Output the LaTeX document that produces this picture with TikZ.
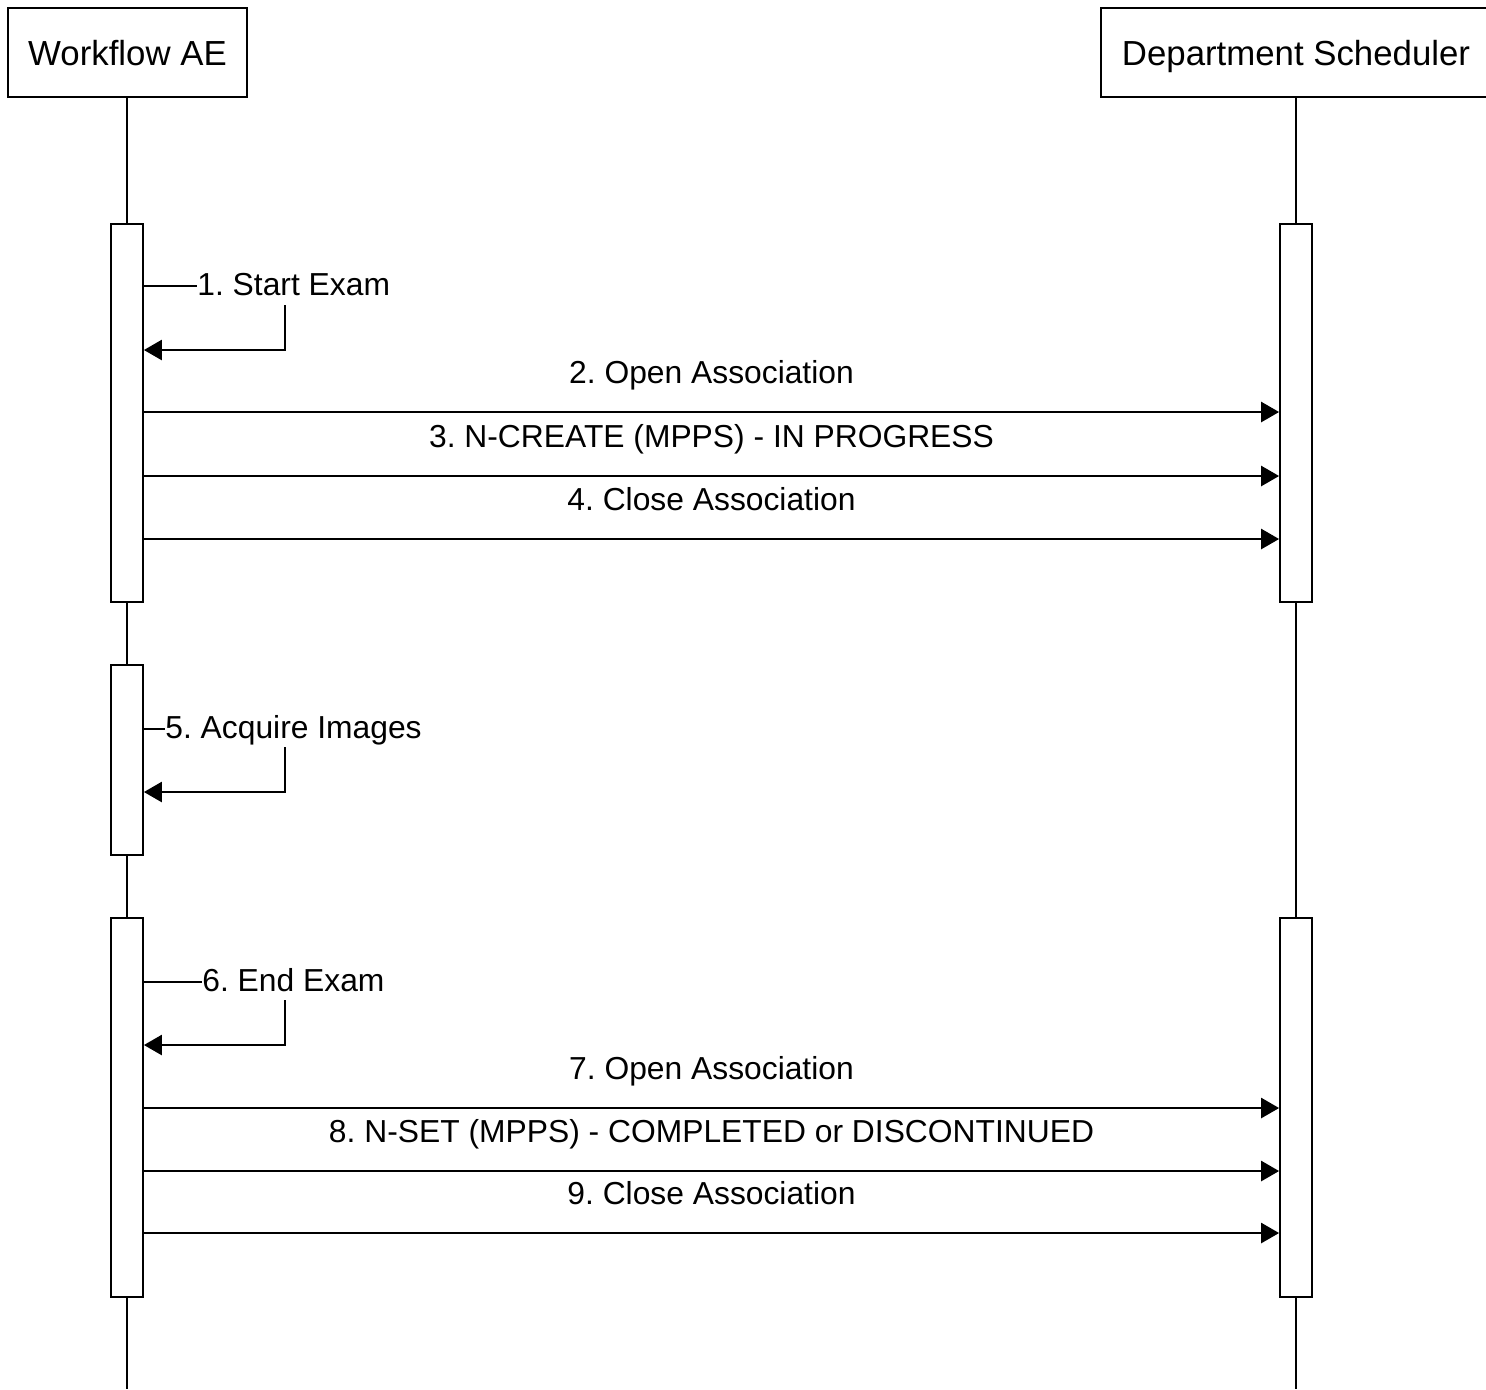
\documentclass[tikz,border=0pt]{standalone}
\usepackage{fontspec}
\setmainfont{Liberation Sans}
\usetikzlibrary{positioning, calc, arrows.meta}
\frenchspacing

\tikzset{
  head/.style={draw, line width=0.9pt, minimum height=44.5pt, inner sep=0pt, text height=12.5pt, text depth=0pt,
    font=\fontsize{17.4}{20}\selectfont},
  actbar/.style={draw, line width=0.9pt, fill=white, minimum width=16pt, inner sep=0pt},
  life/.style={line width=1.2pt},
  msg/.style={line width=1.3pt, -{Triangle[length=9pt,width=10pt]}},
  stub/.style={line width=1pt},
  msglbl/.style={anchor=base, inner sep=0pt, yshift=14.5pt},
  selflbl/.style={anchor=west, inner sep=0pt, text height=11.5pt, text depth=2.5pt},
}

\begin{document}
\begin{tikzpicture}[x=0.5pt, y=-0.5pt, font=\fontsize{15.9}{19}\selectfont]
  \useasboundingbox (0,0) rectangle (1486,1389);

  % heads and lifelines
  \node[head, minimum width=119.5pt] (WAE) at (127.5,52.5) {Workflow AE};
  \node[head, minimum width=195pt] (DS) at (1296,52.5) {Department Scheduler};
  \coordinate (WAEend) at (127,1389);
  \coordinate (DSend) at (1296,1389);
  \draw[life] (WAE.south -| WAEend) -- (WAEend);
  \draw[life] (DS.south) -- (DSend);

  % activation bars
  \node[actbar, minimum height=189pt] (actL1) at (127,413) {};
  \node[actbar, minimum height=95pt] (actL2) at (127,760) {};
  \node[actbar, minimum height=189.5pt] (actL3) at (127,1107.5) {};
  \node[actbar, minimum height=189pt] (actR1) at (1296,413) {};
  \node[actbar, minimum height=189.5pt] (actR3) at (1296,1107.5) {};

  % 1. self message
  \node[selflbl] (s1) at (197,286) {1. Start Exam};
  \draw[stub] (actL1.east |- s1.west) -- (s1.west);
  \draw[msg] (285,305) |- (actL1.east |- 0,350);

  % 2 - 4
  \draw[msg] (actL1.east |- 0,412) -- node[msglbl] (m2) {2. Open Association} (actR1.west |- 0,412);
  \draw[msg] (actL1.east |- 0,476) -- node[msglbl] (m3) {3. N-CREATE (MPPS) - IN PROGRESS} (actR1.west |- 0,476);
  \draw[msg] (actL1.east |- 0,539) -- node[msglbl] (m4) {4. Close Association} (actR1.west |- 0,539);

  % 5. self message
  \node[selflbl] (s5) at (165,729) {5. Acquire Images};
  \draw[stub] (actL2.east |- s5.west) -- (s5.west);
  \draw[msg] (285,747) |- (actL2.east |- 0,792);

  % 6. self message
  \node[selflbl] (s6) at (202,982) {6. End Exam};
  \draw[stub] (actL3.east |- s6.west) -- (s6.west);
  \draw[msg] (285,1000) |- (actL3.east |- 0,1045);

  % 7 - 9
  \draw[msg] (actL3.east |- 0,1108) -- node[msglbl] (m7) {7. Open Association} (actR3.west |- 0,1108);
  \draw[msg] (actL3.east |- 0,1171) -- node[msglbl] (m8) {8. N-SET (MPPS) - COMPLETED or DISCONTINUED} (actR3.west |- 0,1171);
  \draw[msg] (actL3.east |- 0,1233) -- node[msglbl] (m9) {9. Close Association} (actR3.west |- 0,1233);
\end{tikzpicture}
\end{document}
